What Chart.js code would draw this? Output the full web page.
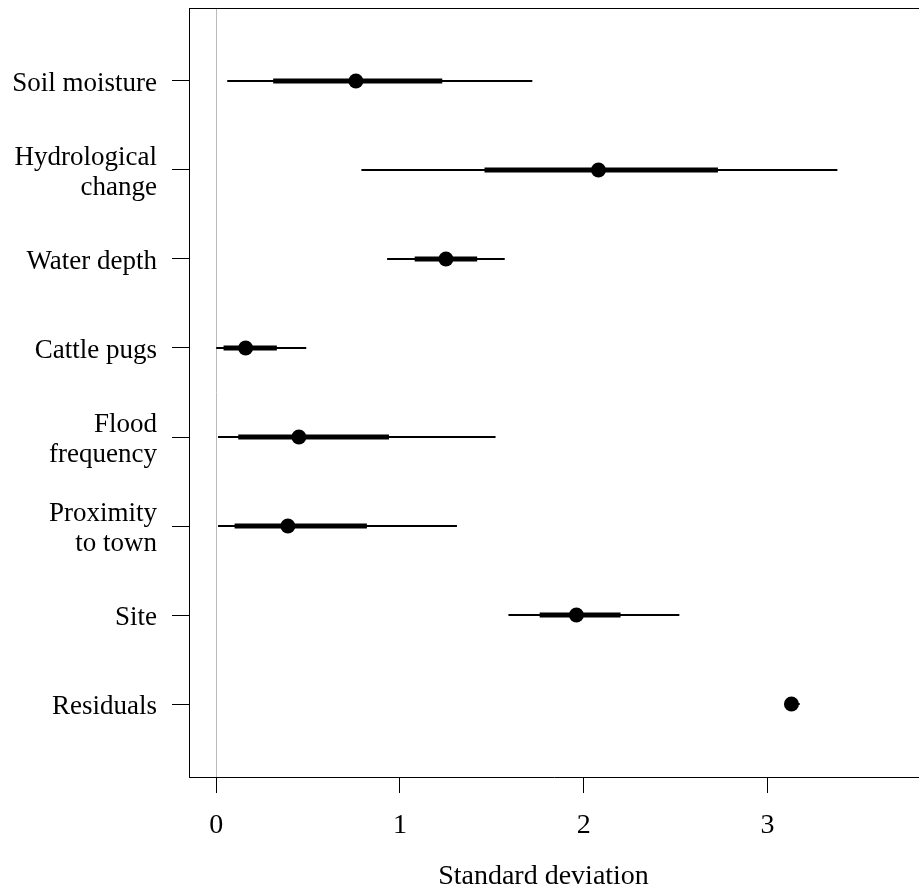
<!DOCTYPE html>
<html lang="en">
<head>
  <meta charset="UTF-8">
  <title>Standard deviation</title>
  <script src="https://cdn.jsdelivr.net/npm/chart.js"></script>
  <style>
    html, body {
      margin: 0;
      padding: 0;
      overflow: hidden;
      background: #fff;
    }
    #wrap {
      width: 919px;
      height: 889px;
    }
    canvas {
      display: block;
    }
  </style>
</head>
<body>

<div id="wrap"><canvas id="sdChart"></canvas></div>

<script>
// rows, top to bottom
const categories = [
  ['Soil moisture'],
  ['Hydrological', 'change'],
  ['Water depth'],
  ['Cattle pugs'],
  ['Flood', 'frequency'],
  ['Proximity', 'to town'],
  ['Site'],
  ['Residuals']
];
const medians   = [0.76, 2.08, 1.25, 0.16, 0.45, 0.39, 1.96, 3.13];
const innerLow  = [0.31, 1.46, 1.08, 0.04, 0.12, 0.10, 1.76, 3.11];
const innerHigh = [1.23, 2.73, 1.42, 0.33, 0.94, 0.82, 2.20, 3.16];
const outerLow  = [0.06, 0.79, 0.93, 0.00, 0.01, 0.01, 1.59, 3.10];
const outerHigh = [1.72, 3.38, 1.57, 0.49, 1.52, 1.31, 2.52, 3.175];
const xTicks = [0, 1, 2, 3];

const rowPos = categories.map((c, i) => i + 1);

// one segment per row, broken by empty points
function segments(lo, hi) {
  const out = [];
  rowPos.forEach((y, i) => {
    out.push({ x: lo[i], y: y }, { x: hi[i], y: y }, { x: null, y: null });
  });
  return out;
}

// drop the extra room chart.js keeps for edge labels
function noEdgePadding(scale) {
  scale.paddingTop = 0;
  scale.paddingBottom = 0;
  scale.paddingLeft = 0;
  scale.paddingRight = 0;
}

Chart.defaults.font.family = "'Liberation Serif', 'DejaVu Serif', serif";
Chart.defaults.color = '#000';

// top side of the box
const boxTop = {
  id: 'boxTop',
  afterDraw(chart) {
    const { ctx, chartArea } = chart;
    ctx.save();
    ctx.strokeStyle = '#000';
    ctx.lineWidth = 1;
    ctx.beginPath();
    ctx.moveTo(chartArea.left, chartArea.top + 0.5);
    ctx.lineTo(chartArea.right, chartArea.top + 0.5);
    ctx.stroke();
    ctx.restore();
  }
};

new Chart(document.getElementById('sdChart'), {
  type: 'line',
  data: {
    datasets: [
      {
        label: 'median',
        data: rowPos.map((y, i) => ({ x: medians[i], y: y })),
        showLine: false,
        pointRadius: 7.5,
        pointBackgroundColor: '#000',
        pointBorderWidth: 0,
        order: 0
      },
      {
        label: 'inner',
        data: segments(innerLow, innerHigh),
        borderColor: '#000',
        borderWidth: 5,
        borderCapStyle: 'butt',
        pointRadius: 0,
        spanGaps: false,
        order: 1
      },
      {
        label: 'outer',
        data: segments(outerLow, outerHigh),
        borderColor: '#000',
        borderWidth: 2,
        borderCapStyle: 'butt',
        pointRadius: 0,
        spanGaps: false,
        order: 2
      }
    ]
  },
  options: {
    responsive: true,
    maintainAspectRatio: false,
    animation: false,
    layout: {
      autoPadding: false,
      padding: { top: 8, right: 0, left: 0, bottom: 0 }
    },
    plugins: {
      legend: { display: false },
      tooltip: { enabled: false }
    },
    scales: {
      x: {
        type: 'linear',
        min: -0.148,
        max: 3.824,
        afterBuildTicks: scale => { scale.ticks = xTicks.map(v => ({ value: v })); },
        afterFit: scale => { scale.height = 112; noEdgePadding(scale); },
        grid: {
          drawOnChartArea: true,
          color: ctx => (ctx.tick && ctx.tick.value === 0 ? '#bbbbbb' : 'rgba(0,0,0,0)'),
          tickColor: '#000',
          tickLength: 16,
          lineWidth: 1
        },
        border: { display: true, color: '#000', width: 1 },
        ticks: {
          padding: 17,
          font: { size: 28, lineHeight: 1.15 },
          callback: v => String(v)
        },
        title: {
          display: true,
          text: 'Standard deviation\u00a0\u00a0\u00a0',
          font: { size: 28, lineHeight: 0.86 },
          padding: { top: 0, bottom: 0 }
        }
      },
      y: {
        type: 'linear',
        reverse: true,
        min: 0.18,
        max: 8.82,
        afterBuildTicks: scale => { scale.ticks = rowPos.map(v => ({ value: v })); },
        afterFit: scale => { scale.width = 189; noEdgePadding(scale); },
        grid: {
          drawOnChartArea: false,
          tickColor: '#000',
          tickLength: 17
        },
        border: { display: true, color: '#000', width: 1 },
        ticks: {
          padding: 15,
          labelOffset: 3,
          font: { size: 27, lineHeight: 1.1 },
          callback: v => categories[v - 1]
        }
      }
    }
  },
  plugins: [boxTop]
});
</script>

</body>
</html>
